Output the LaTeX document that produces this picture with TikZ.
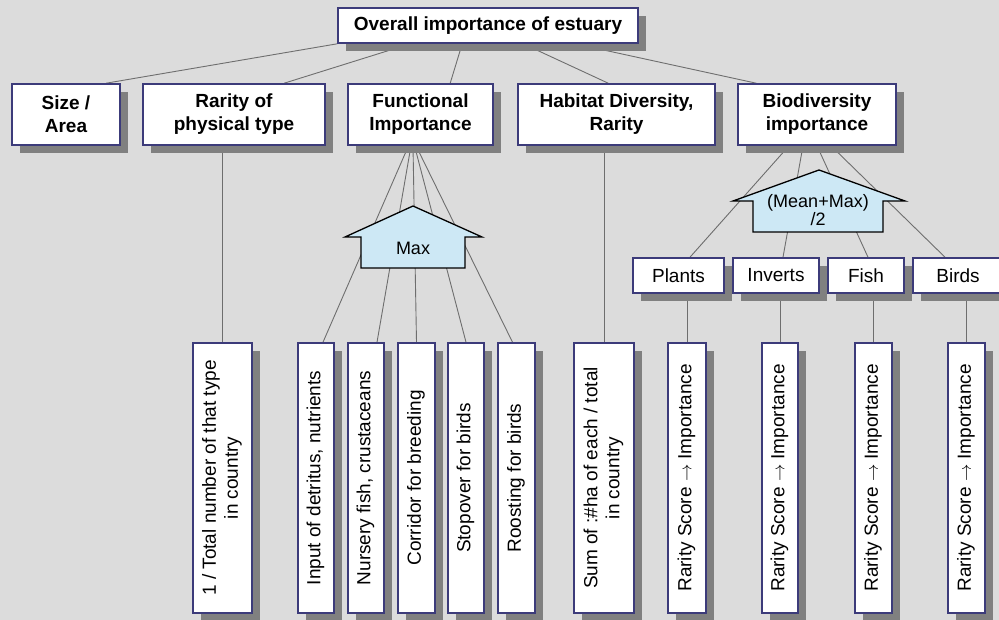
\documentclass[tikz,border=0pt]{standalone}
\usepackage{fontspec}
\setmainfont{Liberation Sans}
\usetikzlibrary{shadows,backgrounds}

\definecolor{bgcol}{HTML}{DCDCDC}
\definecolor{boxline}{HTML}{3C3B7A}
\definecolor{shadowcol}{HTML}{808080}
\definecolor{linkcol}{HTML}{6E6E6E}
\definecolor{opfill}{HTML}{CDE8F5}

\newcommand{\uptext}[1]{\rotatebox{90}{\begin{tabular}{@{}c@{}}#1\end{tabular}}}

\tikzset{
  critbox/.style={draw=boxline, line width=1.6pt, fill=white, inner sep=0pt, align=center,
    drop shadow={shadow xshift=8pt, shadow yshift=-8pt, fill=shadowcol, opacity=1}},
  headbox/.style={critbox, font=\fontsize{19}{23}\selectfont\bfseries},
  leafbox/.style={critbox, font=\fontsize{19}{22}\selectfont},
  upbox/.style={leafbox, minimum height=270pt},
  link/.style={draw=linkcol, line width=0.9pt},
  opshape/.style={draw=black, line width=1.3pt, fill=opfill, line join=miter},
  optext/.style={inner sep=0pt, align=center, font=\fontsize{18}{14}\selectfont}
}

\begin{document}
\begin{tikzpicture}[x=1pt,y=-1pt]

    \useasboundingbox (0,0) rectangle (999,620);
    \clip (0,0) rectangle (999,620);

    % overall score
    \node[headbox, minimum width=300pt, minimum height=35pt] (overall) at (488,25.5) {Overall importance of estuary};

    %%%%%%%%%%%%%%%%%%%%%%%%%%%%%%%%%%%%%%%%%%%%%%%%%%%%%%

    % criteria
    \node[headbox, minimum width=108pt, minimum height=61pt] (size) at (66,114.5) {Size /\\Area};
    \node[headbox, minimum width=182pt, minimum height=61pt] (rarity) at (234,114.5) {Rarity of\\physical type};
    \node[headbox, minimum width=145pt, minimum height=61pt] (func) at (420.5,114.5) {Functional\\Importance};
    \node[headbox, minimum width=197pt, minimum height=61pt] (habitat) at (616.5,114.5) {Habitat Diversity,\\Rarity};
    \node[headbox, minimum width=158pt, minimum height=61pt] (biodiv) at (817,114.5) {Biodiversity\\importance};

    %%%%%%%%%%%%%%%%%%%%%%%%%%%%%%%%%%%%%%%%%%%%%%%%%%%%%%

    % species groups
    \node[leafbox, minimum width=91pt, minimum height=35pt] (plants) at (678.5,275.5) {Plants};
    \node[leafbox, minimum width=86pt, minimum height=35pt] (inverts) at (776,275.5) {Inverts};
    \node[leafbox, minimum width=76pt, minimum height=35pt] (fish) at (866,275.5) {Fish};
    \node[leafbox, minimum width=90pt, minimum height=35pt] (birds) at (958,275.5) {Birds};

    %%%%%%%%%%%%%%%%%%%%%%%%%%%%%%%%%%%%%%%%%%%%%%%%%%%%%%

    % rarity of physical type
    \node[upbox, minimum width=59pt] (total) at (222.5,478) {\uptext{1 / Total number of that type\\in country}};

    % functions
    \node[upbox, minimum width=36pt] (input) at (316,478) {\uptext{Input of detritus, nutrients}};
    \node[upbox, minimum width=36pt] (nursery) at (366,478) {\uptext{Nursery fish, crustaceans}};
    \node[upbox, minimum width=37pt] (corridor) at (416.5,478) {\uptext{Corridor for breeding}};
    \node[upbox, minimum width=36pt] (stopover) at (466,478) {\uptext{Stopover for birds}};
    \node[upbox, minimum width=37pt] (roosting) at (516.5,478) {\uptext{Roosting for birds}};

    % habitat area
    \node[upbox, minimum width=60pt] (sumha) at (604,478) {\uptext{Sum of :\#ha of each / total\\in country}};

    % rarity scores
    \node[upbox, minimum width=38pt] (rare1) at (687,478) {\uptext{Rarity Score $\rightarrow$ Importance}};
    \node[upbox, minimum width=36pt] (rare2) at (780,478) {\uptext{Rarity Score $\rightarrow$ Importance}};
    \node[upbox, minimum width=37pt] (rare3) at (873.5,478) {\uptext{Rarity Score $\rightarrow$ Importance}};
    \node[upbox, minimum width=37pt] (rare4) at (966.5,478) {\uptext{Rarity Score $\rightarrow$ Importance}};

    %%%%%%%%%%%%%%%%%%%%%%%%%%%%%%%%%%%%%%%%%%%%%%%%%%%%%%

    \begin{scope}[on background layer]
    \fill[bgcol] (0,0) rectangle (999,620);

    % overall to criteria
    \draw[link] (overall.south west) -- ([xshift=95pt]size.north west);
    \draw[link] ([xshift=73pt]overall.south west) -- ([xshift=142pt]rarity.north west);
    \draw[link] ([xshift=125pt]overall.south west) -- ([xshift=103pt]func.north west);
    \draw[link] ([xshift=186pt]overall.south west) -- ([xshift=91pt]habitat.north west);
    \draw[link] ([xshift=238pt]overall.south west) -- ([xshift=19pt]biodiv.north west);

    % single indicators
    \draw[link] (rarity.south -| total.north) -- (total.north);
    \draw[link] (habitat.south -| sumha.north) -- (sumha.north);

    % functions
    \draw[link] ([xshift=-12pt]func.south) -- ([xshift=7pt]input.north);
    \draw[link] ([xshift=-9.5pt]func.south) -- ([xshift=11pt]nursery.north);
    \draw[link] ([xshift=-7.5pt]func.south) -- (corridor.north);
    \draw[link] ([xshift=-6pt]func.south) -- (stopover.north);
    \draw[link] ([xshift=-4.5pt]func.south) -- ([xshift=-4pt]roosting.north);

    % species groups
    \draw[link] ([xshift=-28pt]biodiv.south) -- ([xshift=11.5pt]plants.north);
    \draw[link] ([xshift=-14pt]biodiv.south) -- ([xshift=7pt]inverts.north);
    \draw[link] (biodiv.south) -- ([xshift=2pt]fish.north);
    \draw[link] ([xshift=14pt]biodiv.south) -- ([xshift=-13pt]birds.north);

    % rarity scores
    \draw[link] (plants.south -| rare1.north) -- (rare1.north);
    \draw[link] (inverts.south -| rare2.north) -- (rare2.north);
    \draw[link] (fish.south -| rare3.north) -- (rare3.north);
    \draw[link] (birds.south -| rare4.north) -- (rare4.north);
    \end{scope}

    %%%%%%%%%%%%%%%%%%%%%%%%%%%%%%%%%%%%%%%%%%%%%%%%%%%%%%

    % aggregation for functions
    \draw[opshape] (361,268) -- (361,237) -- (345,237) -- (413,206) -- (482,237) -- (465,237) -- (465,268) -- cycle;
    \node[optext] (maxop) at (413,248) {Max};

    % aggregation for species groups
    \draw[opshape] (753,232) -- (753,201) -- (733,201) -- (819,170) -- (905,201) -- (883,201) -- (883,232) -- cycle;
    \node[optext] (meanmax) at (818,210) {(Mean+Max)\\/2};

\end{tikzpicture}
\end{document}
